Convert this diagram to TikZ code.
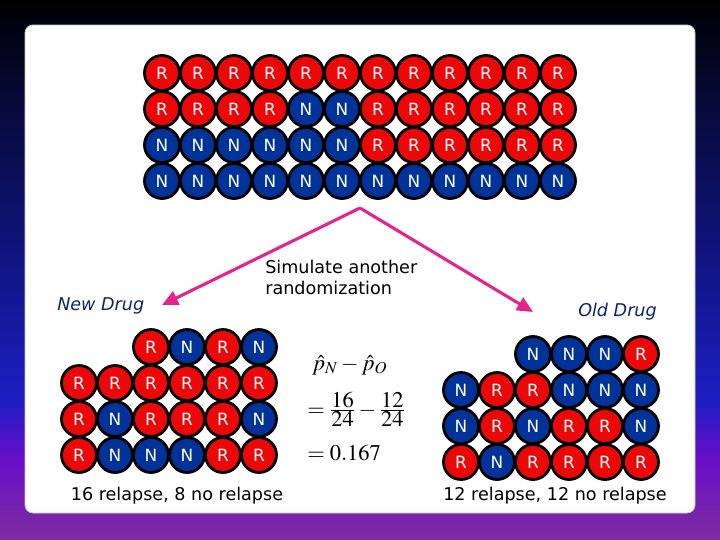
\documentclass[tikz,border=0pt]{standalone}
\usepackage{mathptmx}
\usepackage[no-math]{fontspec}
\newfontfamily\slidefont{DejaVu Sans}
\usetikzlibrary{arrows.meta}

\definecolor{fillR}{RGB}{236,8,8}
\definecolor{fillN}{RGB}{0,51,153}
\definecolor{drugblue}{RGB}{10,35,110}
\definecolor{arrowpink}{RGB}{228,36,140}
\definecolor{bgA}{RGB}{6,10,55}
\definecolor{bgB}{RGB}{15,20,125}
\definecolor{bgC}{RGB}{28,30,195}
\definecolor{bgD}{RGB}{105,15,200}
\definecolor{bgE}{RGB}{125,45,160}

\pgfdeclareverticalshading{slidebg}{100bp}{color(0bp)=(bgE); color(25bp)=(bgE); color(32.4bp)=(bgD); color(38bp)=(bgC); color(51.9bp)=(bgB); color(65.7bp)=(bgA); color(75bp)=(black); color(100bp)=(black)}

\newcommand{\ratio}[2]{\frac{\textstyle #1}{\textstyle #2}}

\tikzset{
  ball/.style={draw=black, circle, line width=2pt, minimum size=0.875cm, inner sep=0pt,
    text=white, font=\slidefont\fontsize{12}{14}\selectfont},
  caption/.style={font=\slidefont\fontsize{12.5}{15}\selectfont, inner sep=0pt},
  pick/.style={draw=arrowpink, line width=2.2pt, -{Triangle[length=0.4cm, width=0.36cm]}},
  formula/.style={anchor=base west, inner sep=0pt, font=\fontsize{16}{19}\selectfont}
}

\begin{document}
\begin{tikzpicture}
        \useasboundingbox (0,0) rectangle (18,-13.5);

        % Slide background and card
        \shade[shading=slidebg] (0,0) rectangle (18,-13.5);
        \draw[gray!45, fill=white, line width=0.6pt, rounded corners=0.2cm] (0.625,-0.625) rectangle (17.375,-12.825);

        % Draw the original 48 patients
        \foreach \row [count=\r] in {{R,R,R,R,R,R,R,R,R,R,R,R},{R,R,R,R,N,N,R,R,R,R,R,R},{N,N,N,N,N,N,R,R,R,R,R,R},{N,N,N,N,N,N,N,N,N,N,N,N}}
          \foreach \lab [count=\c] in \row
            \node[ball, fill=fill\lab] (top\r-\c) at ({4.05+0.9*(\c-1)}, {-1.825-0.9*(\r-1)}) {\lab};

        % Draw the arrows
        \coordinate (split) at (9.0,-5.2);
        \coordinate (toNew) at (4.05,-7.625);
        \coordinate (toOld) at (13.325,-7.8);
        \draw[pick] (split) -- (toNew);
        \draw[pick] (split) -- (toOld);

        \node[caption, align=left, anchor=north west] (simlbl) at (6.625,-6.49) {Simulate another\\randomization};
        \node[caption, text=drugblue, font=\slidefont\itshape\fontsize{12.5}{15}\selectfont, anchor=base west] (newlbl) at (1.425,-7.75) {New Drug};
        \node[caption, text=drugblue, font=\slidefont\itshape\fontsize{12.5}{15}\selectfont, anchor=base west] (oldlbl) at (14.45,-7.9125) {Old Drug};

        % New drug group
        \foreach \lab [count=\c from 3] in {R,N,R,N}
          \node[ball, fill=fill\lab] (new1-\c) at ({1.975+0.9*(\c-1)}, -8.675) {\lab};
        \foreach \row [count=\r from 2] in {{R,R,R,R,R,R},{R,N,R,R,R,N},{R,N,N,N,R,R}}
          \foreach \lab [count=\c] in \row
            \node[ball, fill=fill\lab] (new\r-\c) at ({1.975+0.9*(\c-1)}, {-8.675-0.9*(\r-1)}) {\lab};
        \node[caption, anchor=base] (newcount) at (4.425,-12.5) {16 relapse, 8 no relapse};

        % Old drug group
        \foreach \lab [count=\c from 3] in {N,N,N,R}
          \node[ball, fill=fill\lab] (old1-\c) at ({11.525+0.9*(\c-1)}, -8.85) {\lab};
        \foreach \row [count=\r from 2] in {{N,R,R,N,N,N},{N,R,N,R,R,N},{R,N,R,R,R,R}}
          \foreach \lab [count=\c] in \row
            \node[ball, fill=fill\lab] (old\r-\c) at ({11.525+0.9*(\c-1)}, {-8.85-0.9*(\r-1)}) {\lab};
        \node[caption, anchor=base] (oldcount) at (13.875,-12.5) {12 relapse, 12 no relapse};

        % Difference in proportions
        \node[formula] (diffA) at (7.8,-9.25) {$\hat{p}_N-\hat{p}_O$};
        \node[formula] (diffB) at (7.675,-10.4) {$=\ratio{16}{24}-\ratio{12}{24}$};
        \node[formula] (diffC) at (7.675,-11.5) {$=0.167$};

\end{tikzpicture}
\end{document}
